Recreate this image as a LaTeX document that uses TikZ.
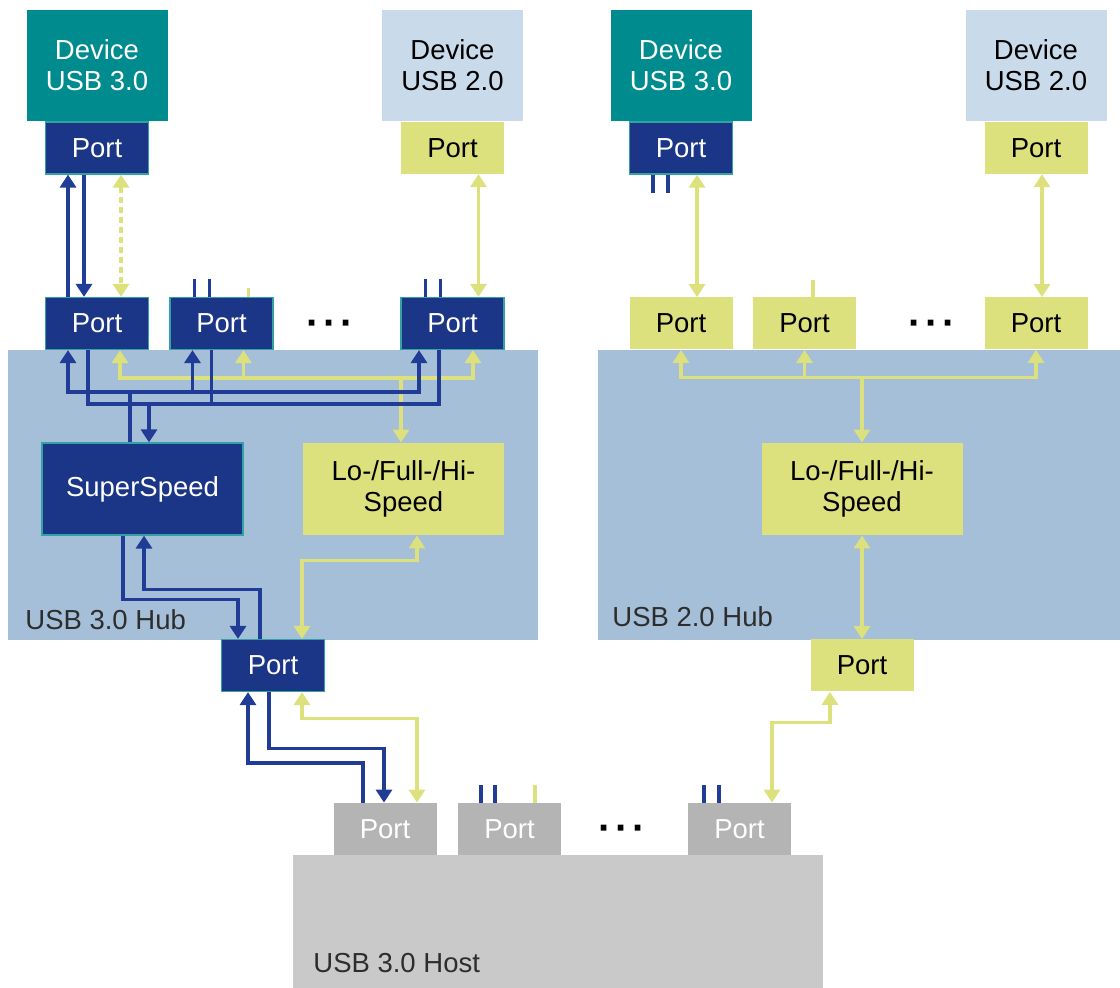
\documentclass[tikz,border=0pt]{standalone}
\usepackage{fontspec}
\setmainfont{Liberation Sans}
\usetikzlibrary{arrows.meta,positioning,calc}
\usepackage{xcolor}
\definecolor{ssblue}{RGB}{27,53,135}
\definecolor{lineblue}{RGB}{32,60,150}
\definecolor{teal3}{RGB}{0,139,143}
\definecolor{devlight}{RGB}{201,219,235}
\definecolor{lsyel}{RGB}{220,224,125}
\definecolor{hubbg}{RGB}{164,191,215}
\definecolor{hostbg}{RGB}{201,201,201}
\definecolor{hostpt}{RGB}{180,180,180}
\definecolor{lbl}{RGB}{45,45,45}

\begin{document}
\begin{tikzpicture}[x=0.5pt, y=-0.5pt, font=\fontsize{13.75}{15.5}\selectfont,
      >={Triangle[width=8pt,length=6.5pt]},
      bb/.style={inner sep=0pt, align=center, minimum width=51.5pt, minimum height=26pt},
      ss/.style={bb, fill=ssblue, draw=teal3!80, line width=0.6pt, text=white},
      ls/.style={bb, fill=lsyel, text=black},
      hs/.style={bb, fill=hostpt, text=white},
      dv/.style={bb, minimum width=70.5pt, minimum height=55.5pt},
      sp/.style={bb, minimum width=100.5pt, minimum height=46pt},
      bg/.style={inner sep=0pt, minimum width=265pt, minimum height=145pt},
      lb/.style={anchor=base west, inner sep=0pt, text=lbl},
      dots/.style={font=\fontsize{20}{20}\selectfont\bfseries},
      bl/.style={lineblue, line width=1.6pt},
      yl/.style={lsyel, line width=1.6pt}]
    \useasboundingbox (0,0) rectangle (1120,988);

    % backgrounds
    \node[bg, fill=hubbg] (hub1) at (273,495) {};
    \node[bg, fill=hubbg, minimum width=261pt] (hub2) at (859,495) {};
    \node[bg, fill=hostbg, minimum height=66.5pt] (host) at (558,921.5) {};
    \node[lb] (hub1lbl) at (25,630) {USB 3.0 Hub};
    \node[lb] (hub2lbl) at (612,627) {USB 2.0 Hub};
    \node[lb] (hostlbl) at (313,972) {USB 3.0 Host};

    % devices
    \node[dv, fill=teal3, text=white] (dev1) at (97,65.5) {Device\\USB 3.0};
    \node[ss, below=0pt of dev1] (dp1) {Port};
    \node[dv, fill=devlight] (dev2) at (452.5,65.5) {Device\\USB 2.0};
    \node[ls, below=0pt of dev2] (dp2) {Port};
    \node[dv, fill=teal3, text=white] (dev3) at (681,65.5) {Device\\USB 3.0};
    \node[ss, below=0pt of dev3] (dp3) {Port};
    \node[dv, fill=devlight] (dev4) at (1036,65.5) {Device\\USB 2.0};
    \node[ls, below=0pt of dev4] (dp4) {Port};

    % hub ports
    \node[ss] (hp1) at (97,323.5) {Port};
    \node[ss] (hp2) at (221.5,323.5) {Port};
    \node[dots] (dots1) at (330,328) {·\hspace{2pt}·\hspace{2pt}·};
    \node[ss] (hp3) at (452.5,323.5) {Port};
    \node[ls] (q1) at (681,323.5) {Port};
    \node[ls] (q2) at (804.5,323.5) {Port};
    \node[dots] (dots2) at (932,328) {·\hspace{2pt}·\hspace{2pt}·};
    \node[ls] (q3) at (1036,323.5) {Port};

    \node[sp, fill=ssblue, draw=teal3!80, line width=0.6pt, text=white] (ss) at (142.5,489) {SuperSpeed};
    \node[sp, fill=lsyel] (lo1) at (403.5,489) {Lo-/Full-/Hi-\\Speed};
    \node[sp, fill=lsyel] (lo2) at (862,489) {Lo-/Full-/Hi-\\Speed};

    \node[ss] (up1) at (273,665.5) {Port};
    \node[ls] (up2) at (862,665.5) {Port};

    % host ports
    \node[hs] (h1) at (385,829) {Port};
    \node[hs] (h2) at (509.5,829) {Port};
    \node[dots] (dots3) at (622,833.5) {·\hspace{2pt}·\hspace{2pt}·};
    \node[hs] (h3) at (739.5,829) {Port};

    % device links
    \draw[bl,->] ($(hp1.north)+(-29,0)$) -- ($(dp1.south)+(-29,0)$);
    \draw[bl,->] ($(dp1.south)+(-13,0)$) -- ($(hp1.north)+(-13,0)$);
    \draw[yl,<->,dash pattern=on 3pt off 2pt] ($(dp1.south)+(24,0)$) -- ($(hp1.north)+(24,0)$);
    \draw[yl,<->] ($(dp2.south)+(26,0)$) -- ($(hp3.north)+(26,0)$);
    \draw[yl,<->] ($(dp3.south)+(16,0)$) -- ($(q1.north)+(16,0)$);
    \draw[yl,<->] ($(dp4.south)+(6,0)$) -- ($(q3.north)+(6,0)$);

    % open stubs
    \draw[bl] ($(hp2.north)+(-27,0)$) -- +(0,-18);
    \draw[bl] ($(hp2.north)+(-12,0)$) -- +(0,-18);
    \draw[yl] ($(hp2.north)+(27,0)$) -- +(0,-9);
    \draw[bl] ($(hp3.north)+(-27,0)$) -- +(0,-18);
    \draw[bl] ($(hp3.north)+(-12,0)$) -- +(0,-18);
    \draw[bl] ($(dp3.south)+(-28,0)$) -- +(0,18);
    \draw[bl] ($(dp3.south)+(-13,0)$) -- +(0,18);
    \draw[yl] ($(q2.north)+(8.5,0)$) -- +(0,-17);
    \draw[bl] ($(h2.north)+(-28.5,0)$) -- +(0,-18);
    \draw[bl] ($(h2.north)+(-14.5,0)$) -- +(0,-18);
    \draw[yl] ($(h2.north)+(25.5,0)$) -- +(0,-18);
    \draw[bl] ($(h3.north)+(-35.5,0)$) -- +(0,-18);
    \draw[bl] ($(h3.north)+(-20.5,0)$) -- +(0,-18);

    % USB 3.0 hub, port side
    \draw[yl,<->] ($(hp1.south)+(23,0)$) |- ($(hp3.south)+(20.5,28)$) -- ($(hp3.south)+(20.5,0)$);
    \draw[yl,->] ($(hp2.south)+(22,28)$) -- ($(hp2.south)+(22,0)$);
    \draw[yl,->] ($(lo1.north)+(-2.5,-65)$) -- ($(lo1.north)+(-2.5,0)$);
    \draw[bl,->] ($(ss.north)+(-12.5,0)$) |- ($(hp1.south)+(-29,42)$) -- ($(hp1.south)+(-29,0)$);
    \draw[bl,->] ($(hp1.south)+(-29,42)$) -| ($(hp3.south)+(-33.5,0)$);
    \draw[bl,->] ($(hp2.south)+(-29,42)$) -- ($(hp2.south)+(-29,0)$);
    \draw[bl] ($(hp1.south)+(-9,0)$) |- ($(hp3.south)+(-13.5,54)$) -- ($(hp3.south)+(-13.5,0)$);
    \draw[bl] ($(hp2.south)+(-10,0)$) -- +(0,54);
    \draw[bl,->] ($(ss.north)+(6.5,-39)$) -- ($(ss.north)+(6.5,0)$);

    % USB 3.0 hub, upstream side
    \draw[bl,->] ($(ss.south)+(-19.5,0)$) |- ($(up1.north)+(-35,-39)$) -- ($(up1.north)+(-35,0)$);
    \draw[bl,->] ($(up1.north)+(-13,0)$) |- ($(ss.south)+(1.5,54)$) -- ($(ss.south)+(1.5,0)$);
    \draw[yl,<->] ($(lo1.south)+(13.5,0)$) |- ($(up1.north)+(29,-78)$) -- ($(up1.north)+(29,0)$);

    % USB 2.0 hub
    \draw[yl,<->] (q1.south) |- ($(q3.south)+(0,28)$) -- (q3.south);
    \draw[yl,->] ($(q2.south)+(0,28)$) -- (q2.south);
    \draw[yl,->] ($(lo2.north)+(0,-67)$) -- (lo2.north);
    \draw[yl,<->] (lo2.south) -- (up2.north);

    % host links
    \draw[bl,->] ($(h1.north)+(-22,0)$) |- ($(up1.south)+(-25,71)$) -- ($(up1.south)+(-25,0)$);
    \draw[bl,->] ($(up1.south)+(-4,0)$) |- ($(h1.north)+(-1,-54)$) -- ($(h1.north)+(-1,0)$);
    \draw[yl,<->] ($(up1.south)+(29,0)$) |- ($(h1.north)+(32,-84)$) -- ($(h1.north)+(32,0)$);
    \draw[yl,<->] ($(h3.north)+(32.5,0)$) |- ($(up2.south)+(-32,31)$) -- ($(up2.south)+(-32,0)$);
  \end{tikzpicture}
\end{document}
